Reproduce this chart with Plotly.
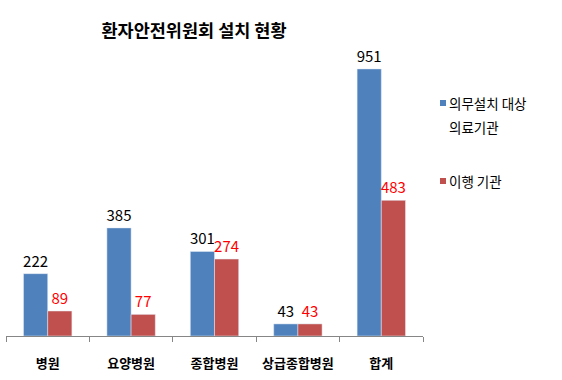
import plotly.graph_objects as go

categories = ["병원", "요양병원", "종합병원", "상급종합병원", "합계"]
mandatory = [222, 385, 301, 43, 951]
implemented = [89, 77, 274, 43, 483]
series_names = ["의무설치 대상 의료기관", "이행 기관"]
legend_lines = [["의무설치 대상", "의료기관"], ["이행 기관"]]
colors = ["#4F81BD", "#C0504D"]

FONT = "Noto Sans CJK KR, Malgun Gothic, sans-serif"
W, H = 562, 380
ML, MR, MT, MB = 6, 139, 40, 44

fig = go.Figure()
fig.add_trace(go.Bar(
    x=categories, y=mandatory, name=series_names[0],
    marker_color=colors[0], text=mandatory, textposition="outside",
    textfont=dict(color="#000000", size=15), cliponaxis=False,
    constraintext="none", showlegend=False,
))
fig.add_trace(go.Bar(
    x=categories, y=implemented, name=series_names[1],
    marker_color=colors[1], text=implemented, textposition="outside",
    textfont=dict(color="#FF0000", size=15), cliponaxis=False,
    constraintext="none", showlegend=False,
))

# manual legend (paper coordinates)
pw = W - ML - MR
ph = H - MT - MB
def px_x(x):
    return (x - ML) / pw
def px_y(y):
    return (H - MB - y) / ph

legend_rows = [(103, 0), (181, 1)]
shapes = []
annotations = []
for y, i in legend_rows:
    shapes.append(dict(type="rect", xref="paper", yref="paper",
                       x0=px_x(440), x1=px_x(446), y0=px_y(y + 3), y1=px_y(y - 3),
                       fillcolor=colors[i], line=dict(width=0)))
    for k, line in enumerate(legend_lines[i]):
        annotations.append(dict(xref="paper", yref="paper", x=px_x(447),
                                y=px_y(y + 24 * k), xanchor="left", yanchor="middle",
                                showarrow=False, align="left", text=line,
                                font=dict(size=13.5, family=FONT, color="#000000")))

fig.update_layout(
    width=W, height=H,
    margin=dict(l=ML, r=MR, t=MT, b=MB, autoexpand=False),
    paper_bgcolor="white", plot_bgcolor="white",
    font=dict(family=FONT, size=12, color="#000000"),
    barmode="group", bargap=0.42, bargroupgap=0,
    title=dict(text="<b>환자안전위원회 설치 현황</b>", x=194 / W, xanchor="center",
               y=1 - 31 / H, yanchor="middle", xref="container", yref="container",
               font=dict(size=17.5, family=FONT)),
    showlegend=False,
    shapes=shapes, annotations=annotations,
)
fig.update_xaxes(
    showline=True, linecolor="#868686", linewidth=1,
    ticks="outside", tickson="boundaries", ticklen=5, tickcolor="#868686",
    tickfont=dict(size=13, family=FONT), showgrid=False,
    ticklabelstandoff=15, automargin=False,
    tickvals=categories, ticktext=["<b>%s</b>" % c for c in categories],
)
fig.update_yaxes(visible=False, range=[0, 1054], showgrid=False)

fig.write_html("out.html", post_script="document.body.style.margin='0';",
               config={"displayModeBar": False})
